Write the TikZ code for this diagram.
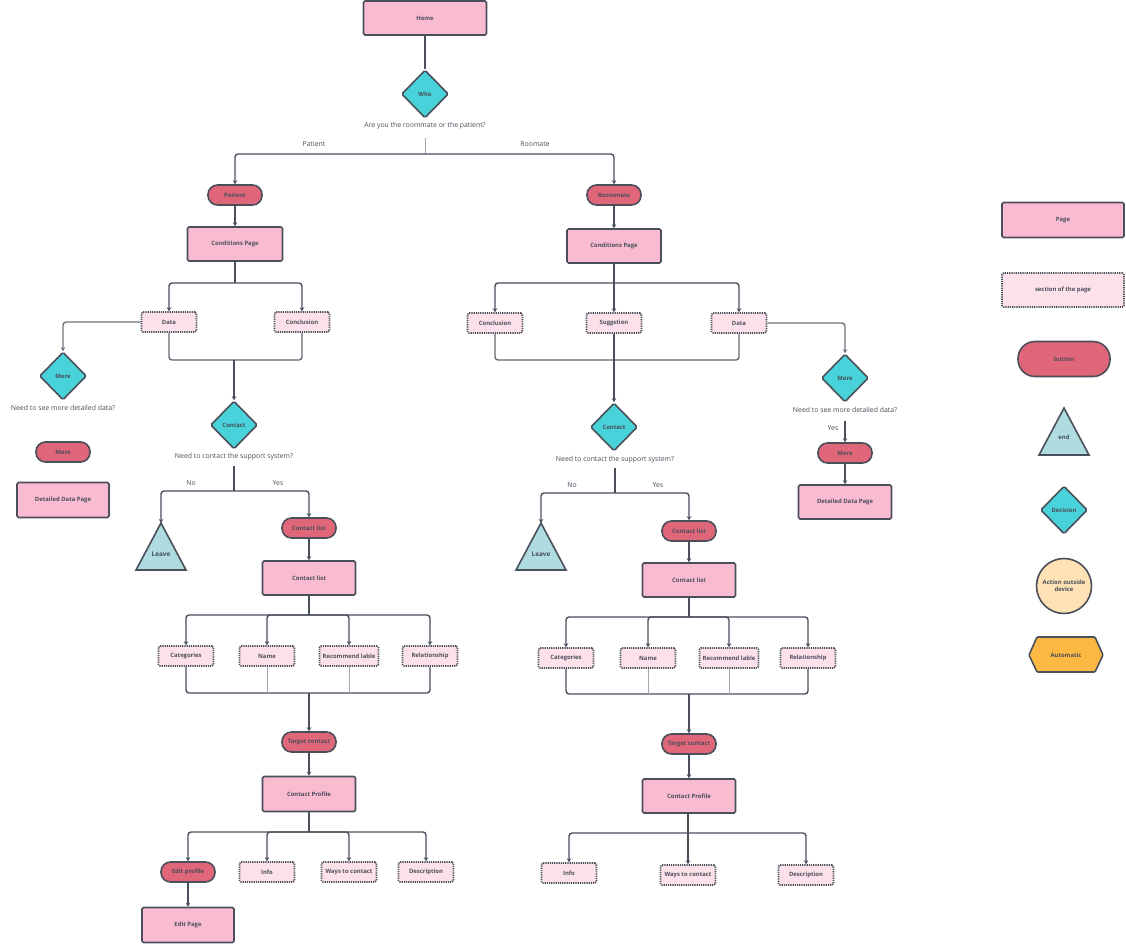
\documentclass[tikz,border=0pt]{standalone}
\usepackage{fontspec}
\setmainfont{Open Sans}
\usetikzlibrary{shapes.geometric,arrows.meta}
\definecolor{pagefill}{HTML}{F9BBD0}
\definecolor{secfill}{HTML}{FDE1EA}
\definecolor{btnfill}{HTML}{E0667A}
\definecolor{decfill}{HTML}{48D2D9}
\definecolor{endfill}{HTML}{AEDCE1}
\definecolor{circfill}{HTML}{FEE2B5}
\definecolor{autofill}{HTML}{FBB843}
\definecolor{linec}{HTML}{4A4F5B}
\definecolor{thinc}{HTML}{A3A7AE}
\definecolor{txtc}{HTML}{4A4F5B}
\tikzset{
  base/.style={draw=linec, line width=1.6pt, text=txtc, font=\fontsize{5.9}{6.8}\selectfont\bfseries, inner sep=1pt, align=center},
  page/.style={base, rectangle, rounded corners=1.5pt, fill=pagefill, minimum width=93pt, minimum height=34pt},
  sec/.style={base, rectangle, rounded corners=1.5pt, fill=secfill, dash pattern=on 1.2pt off 1pt, minimum width=55pt, minimum height=20pt, inner xsep=0.5pt},
  btn/.style={base, rectangle, rounded corners=9.5pt, fill=btnfill, minimum width=54pt, minimum height=20pt},
  dec/.style={base, diamond, rounded corners=1.5pt, fill=decfill, minimum width=47pt, minimum height=48pt, inner sep=0pt},
  tri/.style={draw=linec, line width=1.6pt, fill=endfill, line join=miter},
  lbl/.style={text=txtc, font=\fontsize{6.9}{8}\selectfont, inner sep=1pt},
  conn/.style={draw=linec, line width=1.4pt, rounded corners=3pt},
  arr/.style={conn, -{Stealth[length=4pt,width=4.5pt]}},
  thin/.style={draw=thinc, line width=0.8pt},
}
\begin{document}
\begin{tikzpicture}[x=1pt,y=-1pt]
\useasboundingbox (0,0) rectangle (1126,943);
% ---------- top ----------
\node[page, minimum width=123pt] (home) at (425,18) {Home};
\node[dec] (who) at (425,94) {Who};
\node[lbl] (whoq) at (425,126) {Are you the roommate or the patient?};
\coordinate (whoQb) at (425,138);
\coordinate (whoJ) at (425,154);
\node[lbl] (lpat) at (314,144) {Patient};
\node[lbl] (lroom) at (535,144) {Roomate};
\node[btn] (patient) at (235,195) {Patient};
\node[btn] (roommate) at (614,195) {Roommate};
\node[page, minimum width=95pt] (condL) at (235,244) {Conditions Page};
\node[page, minimum width=94pt] (condR) at (614,246) {Conditions Page};
\draw[conn] (home) -- (who);
\draw[thin] (whoQb) -- (whoJ);
\draw[arr] (whoJ) -| (patient);
\draw[arr] (whoJ) -| (roommate);
\draw[arr] (patient) -- (condL);
\draw[arr] (roommate) -- (condR);
% ---------- left branch ----------
\coordinate (cLJ) at (235,283);
\node[sec] (dataL) at (169,322) {Data};
\node[sec] (conclL) at (302,322) {Conclusion};
\draw[conn] (condL) -- (cLJ);
\draw[arr] (cLJ) -| (dataL);
\draw[arr] (cLJ) -| (conclL);
\node[dec] (moreL) at (63,376) {More};
\draw[arr, draw=linec!80] (dataL.west) -| (moreL);
\node[lbl] (moreLq) at (63,408) {Need to see more detailed data?};
\node[btn, minimum width=54pt] (moreLb) at (63,452) {More};
\node[page, minimum width=92pt, minimum height=35pt] (detL) at (63,500) {Detailed Data Page};
\coordinate (mL) at (234,360);
\draw[conn, draw=linec!85] (dataL.south) |- (mL);
\draw[conn, draw=linec!85] (conclL.south) |- (mL);
\node[dec] (contactL) at (234,425) {Contact};
\draw[arr] (mL) -- (contactL);
\node[lbl] (contactLq) at (234,457) {Need to contact the support system?};
\coordinate (cqL) at (234,466);
\coordinate (ynL) at (234,491);
\draw[conn] (cqL) -- (ynL);
\node[lbl] (noL) at (191,483) {No};
\node[lbl] (yesL) at (278,483) {Yes};
\coordinate (leaveLtop) at (161,523);
\draw[tri] (161,523) -- (186,570) -- (136,570) -- cycle;
\node[lbl, font=\fontsize{6.4}{7}\selectfont\bfseries] (leaveL) at (161,554) {Leave};
\draw[arr] (ynL) -| (leaveLtop);
\node[btn] (clbL) at (309,528) {Contact list};
\draw[arr] (ynL) -| (clbL);
\node[page] (clL) at (309,578) {Contact list};
\draw[arr] (clbL) -- (clL);
\coordinate (clLJ) at (309,615);
\draw[conn] (clL) -- (clLJ);
\node[sec] (catL) at (186,656) {Categories};
\node[sec] (nameL) at (267,656) {Name};
\node[sec, minimum width=59pt] (recL) at (349,656) {Recommend lable};
\node[sec] (relL) at (430,656) {Relationship};
\draw[arr] (clLJ) -| (catL);
\draw[arr] (clLJ) -| (nameL);
\draw[arr] (clLJ) -| (recL);
\draw[arr] (clLJ) -| (relL);
\coordinate (m2L) at (309,693);
\draw[conn] (catL.south) |- (m2L);
\draw[conn] (relL.south) |- (m2L);
\draw[thin] (nameL.south) -- (nameL.south |- m2L);
\draw[thin] (recL.south) -- (recL.south |- m2L);
\node[btn] (tgtL) at (309,742) {Target contact};
\draw[arr] (m2L) -- (tgtL);
\node[page, minimum height=35pt] (cpL) at (309,794) {Contact Profile};
\draw[arr] (tgtL) -- (cpL);
\coordinate (cpLJ) at (309,832);
\draw[conn] (cpL) -- (cpLJ);
\node[btn] (editL) at (188,872) {Edit profile};
\node[sec] (infoL) at (267,872) {Info};
\node[sec] (waysL) at (349,872) {Ways to contact};
\node[sec] (descL) at (426,872) {Description};
\draw[arr] (cpLJ) -| (editL);
\draw[arr] (cpLJ) -| (infoL);
\draw[arr] (cpLJ) -| (waysL);
\draw[arr] (cpLJ) -| (descL);
\node[page, minimum width=92pt, minimum height=35pt] (editPage) at (188,925) {Edit Page};
\draw[arr] (editL) -- (editPage);
% ---------- right branch ----------
\coordinate (cRJ) at (614,283);
\node[sec] (conclR) at (495,323) {Conclusion};
\node[sec] (suggR) at (614,323) {Suggstion};
\node[sec] (dataR) at (739,323) {Data};
\draw[conn] (condR) -- (cRJ);
\draw[arr] (cRJ) -| (conclR);
\draw[arr] (cRJ) -- (suggR);
\draw[arr] (cRJ) -| (dataR);
\coordinate (mR) at (614,360);
\draw[conn, draw=linec!85] (conclR.south) |- (mR);
\draw[conn, draw=linec!85] (dataR.south) |- (mR);
\node[dec] (contactR) at (614,427) {Contact};
\draw[arr] (suggR) -- (contactR);
\node[lbl] (contactRq) at (615,460) {Need to contact the support system?};
\coordinate (cqR) at (615,468);
\coordinate (ynR) at (615,493);
\draw[conn] (cqR) -- (ynR);
\node[lbl] (noR) at (572,485) {No};
\node[lbl] (yesR) at (658,485) {Yes};
\coordinate (leaveRtop) at (541,523);
\draw[tri] (541,523) -- (566,570) -- (516,570) -- cycle;
\node[lbl, font=\fontsize{6.4}{7}\selectfont\bfseries] (leaveR) at (541,554) {Leave};
\draw[arr] (ynR) -| (leaveRtop);
\node[btn] (clbR) at (689,531) {Contact list};
\draw[arr] (ynR) -| (clbR);
\node[page] (clR) at (689,580) {Contact list};
\draw[arr] (clbR) -- (clR);
\coordinate (clRJ) at (689,617);
\draw[conn] (clR) -- (clRJ);
\node[sec] (catR) at (566,658) {Categories};
\node[sec] (nameR) at (648,658) {Name};
\node[sec, minimum width=59pt] (recR) at (729,658) {Recommend lable};
\node[sec] (relR) at (808,658) {Relationship};
\draw[arr] (clRJ) -| (catR);
\draw[arr] (clRJ) -| (nameR);
\draw[arr] (clRJ) -| (recR);
\draw[arr] (clRJ) -| (relR);
\coordinate (m2R) at (689,694);
\draw[conn] (catR.south) |- (m2R);
\draw[conn] (relR.south) |- (m2R);
\draw[thin] (nameR.south) -- (nameR.south |- m2R);
\draw[thin] (recR.south) -- (recR.south |- m2R);
\node[btn] (tgtR) at (689,744) {Target contact};
\draw[arr] (m2R) -- (tgtR);
\node[page] (cpR) at (689,796) {Contact Profile};
\draw[arr] (tgtR) -- (cpR);
\coordinate (cpRJ) at (688,833);
\draw[conn] (cpR.south -| cpRJ) -- (cpRJ);
\node[sec] (infoR) at (569,873) {Info};
\node[sec] (waysR) at (688,875) {Ways to contact};
\node[sec] (descR) at (806,875) {Description};
\draw[arr] (cpRJ) -| (infoR);
\draw[arr] (cpRJ) -- (waysR);
\draw[arr] (cpRJ) -| (descR);
\node[dec] (moreR) at (845,378) {More};
\draw[arr, draw=linec!80] (dataR.east) -| (moreR);
\node[lbl] (moreRq) at (845,410) {Need to see more detailed data?};
\coordinate (moreRq2) at (845,421);
\node[lbl] (yesR2) at (833,428) {Yes};
\node[btn] (moreRb) at (845,453) {More};
\draw[arr] (moreRq2) -- (moreRb);
\node[page, minimum height=34pt] (detR) at (845,502) {Detailed Data Page};
\draw[arr] (moreRb) -- (detR);
% ---------- legend ----------
\node[page, minimum width=122pt, minimum height=35pt] (lgPage) at (1063,220) {Page};
\node[sec, minimum width=122pt, minimum height=34pt] (lgSec) at (1063,290) {section of the page};
\node[btn, minimum width=92pt, minimum height=35pt, rounded corners=17pt] (lgBtn) at (1064,359) {button};
\draw[tri] (1064,408) -- (1089,455) -- (1039,455) -- cycle;
\node[lbl, font=\fontsize{5.9}{6.8}\selectfont\bfseries] (lgEnd) at (1064,437) {end};
\node[dec] (lgDec) at (1064,510) {Decision};
\node[base, circle, fill=circfill, minimum size=55pt, inner sep=0pt] (lgCirc) at (1064,586) {Action outside\\device};
\draw[draw=linec, line width=1.6pt, fill=autofill, rounded corners=1pt] (1029,655) -- (1037,637) -- (1095,637) -- (1103,655) -- (1095,672) -- (1037,672) -- cycle;
\node[lbl, font=\fontsize{5.9}{6.8}\selectfont\bfseries] (lgAuto) at (1066,655) {Automatic};
\end{tikzpicture}
\end{document}
